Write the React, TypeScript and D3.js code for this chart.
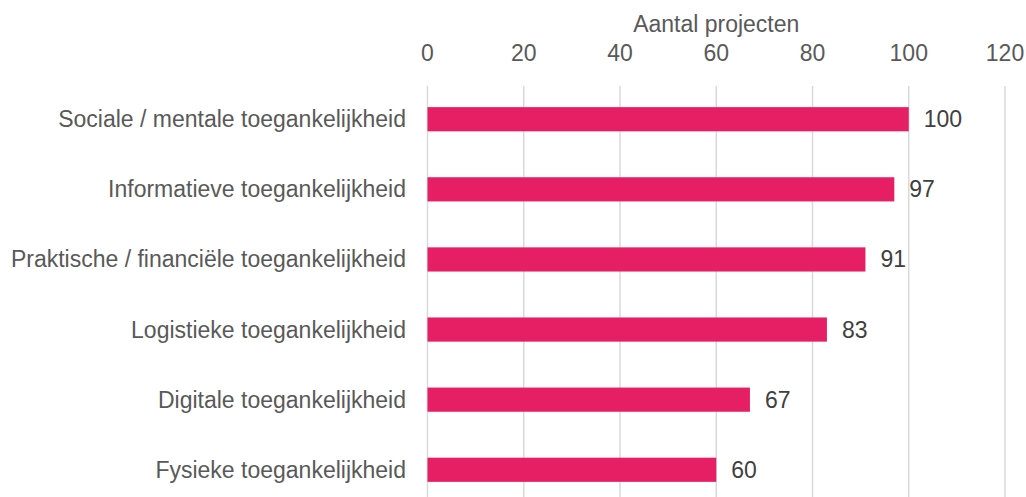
import { useEffect, useRef } from "react";
import * as d3 from "d3";

const categories = [
  "Sociale / mentale toegankelijkheid",
  "Informatieve toegankelijkheid",
  "Praktische / financiële toegankelijkheid",
  "Logistieke toegankelijkheid",
  "Digitale toegankelijkheid",
  "Fysieke toegankelijkheid",
];
const values = [100, 97, 91, 83, 67, 60];
const xTicks = [0, 20, 40, 60, 80, 100, 120];
const axisTitle = "Aantal projecten";

export default function App() {
  const svgRef = useRef<SVGSVGElement>(null);

  useEffect(() => {
    if (!svgRef.current) return;
    const svg = d3.select(svgRef.current);
    svg.selectAll("*").remove();

    const width = 1026;
    const height = 497;
    const font = "'Liberation Sans', Arial, sans-serif";
    const fontSize = 23;

    const x = d3.scaleLinear().domain([0, 120]).range([427.5, 1005]);
    const y = d3
      .scaleBand<string>()
      .domain(categories)
      .range([84, 505])
      .paddingInner(0.655)
      .paddingOuter(0.33);

    const g = svg.append("g");

    // Gridlines
    g.selectAll("line.grid")
      .data(xTicks)
      .join("line")
      .attr("class", "grid")
      .attr("x1", (d) => x(d))
      .attr("x2", (d) => x(d))
      .attr("y1", 86)
      .attr("y2", height)
      .attr("stroke", "#D9D9D9")
      .attr("stroke-width", 1.5);

    // Top axis labels
    g.selectAll("text.tick")
      .data(xTicks)
      .join("text")
      .attr("class", "tick")
      .attr("x", (d) => x(d))
      .attr("y", 61)
      .attr("text-anchor", "middle")
      .attr("font-family", font)
      .attr("font-size", fontSize)
      .attr("fill", "#595959")
      .text((d) => d);

    g.append("text")
      .attr("x", (x(0) + x(120)) / 2)
      .attr("y", 32)
      .attr("text-anchor", "middle")
      .attr("font-family", font)
      .attr("font-size", fontSize)
      .attr("fill", "#595959")
      .text(axisTitle);

    const rows = categories.map((c, i) => ({ c, v: values[i] }));

    // Bars
    g.selectAll("rect.bar")
      .data(rows)
      .join("rect")
      .attr("class", "bar")
      .attr("x", x(0))
      .attr("y", (d) => y(d.c)!)
      .attr("width", (d) => x(d.v) - x(0))
      .attr("height", y.bandwidth())
      .attr("fill", "#E61F64");

    // Category labels
    g.selectAll("text.cat")
      .data(rows)
      .join("text")
      .attr("class", "cat")
      .attr("x", 406)
      .attr("y", (d) => y(d.c)! + y.bandwidth() / 2)
      .attr("dy", "0.35em")
      .attr("text-anchor", "end")
      .attr("font-family", font)
      .attr("font-size", fontSize)
      .attr("fill", "#595959")
      .text((d) => d.c);

    // Value labels
    g.selectAll("text.val")
      .data(rows)
      .join("text")
      .attr("class", "val")
      .attr("x", (d) => x(d.v) + 15)
      .attr("y", (d) => y(d.c)! + y.bandwidth() / 2)
      .attr("dy", "0.35em")
      .attr("font-family", font)
      .attr("font-size", fontSize)
      .attr("fill", "#404040")
      .text((d) => d.v);

    svg.attr("width", width).attr("height", height);
  }, []);

  return (
    <svg
      ref={svgRef}
      width={1026}
      height={497}
      style={{ position: "absolute", left: 0, top: 0, background: "#fff" }}
    />
  );
}
